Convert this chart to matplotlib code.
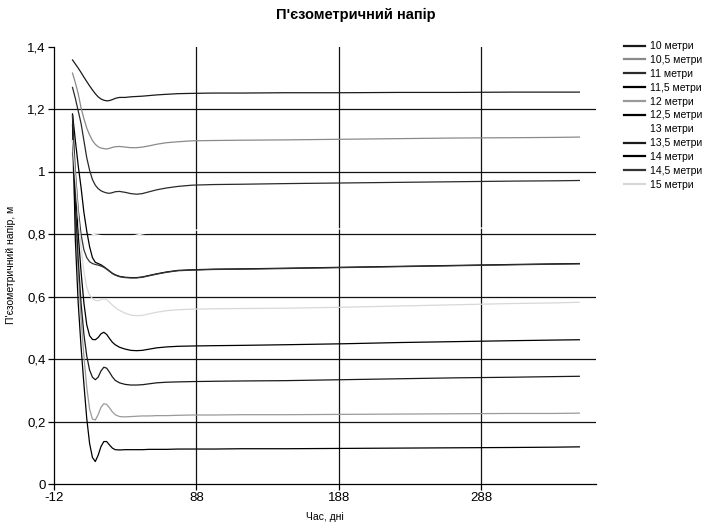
import numpy as np
import matplotlib.pyplot as plt

days = [1, 3, 5, 7, 9, 11, 13, 15, 17, 19, 21, 23, 25, 27, 29, 31,
        34, 38, 42, 46, 50, 55, 60, 67, 75, 85, 100, 120, 150, 190,
        230, 270, 310, 340, 357]

h_10 = [1.358, 1.345, 1.332, 1.318, 1.303, 1.289, 1.275, 1.262, 1.250, 1.240,
        1.233, 1.229, 1.227, 1.228, 1.231, 1.235, 1.238, 1.238, 1.240, 1.241,
        1.242, 1.244, 1.246, 1.248, 1.250, 1.251, 1.252, 1.252, 1.253, 1.253,
        1.254, 1.254, 1.255, 1.255, 1.255]
h_10_5 = [1.316, 1.285, 1.250, 1.205, 1.170, 1.140, 1.118, 1.100, 1.088, 1.080,
          1.076, 1.074, 1.073, 1.075, 1.078, 1.080, 1.081, 1.079, 1.077, 1.077,
          1.079, 1.083, 1.088, 1.093, 1.096, 1.099, 1.100, 1.101, 1.102, 1.104,
          1.106, 1.108, 1.109, 1.110, 1.111]
h_11 = [1.270, 1.235, 1.195, 1.155, 1.100, 1.045, 1.005, 0.975, 0.957, 0.946,
        0.939, 0.935, 0.932, 0.931, 0.933, 0.936, 0.937, 0.934, 0.930, 0.928,
        0.930, 0.936, 0.942, 0.948, 0.953, 0.957, 0.959, 0.960, 0.962, 0.964,
        0.966, 0.968, 0.970, 0.971, 0.972]
h_11_5 = [1.185, 1.100, 1.020, 0.950, 0.870, 0.810, 0.760, 0.725, 0.710, 0.706,
          0.702, 0.696, 0.689, 0.682, 0.675, 0.670, 0.665, 0.662, 0.661, 0.661,
          0.663, 0.668, 0.673, 0.679, 0.684, 0.686, 0.688, 0.689, 0.691, 0.694,
          0.697, 0.700, 0.703, 0.705, 0.706]
h_12 = [1.060, 0.860, 0.680, 0.530, 0.410, 0.310, 0.240, 0.208, 0.205, 0.222,
        0.246, 0.257, 0.255, 0.244, 0.231, 0.222, 0.216, 0.215, 0.216, 0.217,
        0.218, 0.218, 0.219, 0.219, 0.220, 0.221, 0.221, 0.222, 0.222, 0.223,
        0.224, 0.225, 0.226, 0.226, 0.227]
h_12_5 = [1.100, 0.950, 0.800, 0.680, 0.580, 0.510, 0.475, 0.463, 0.462, 0.469,
          0.481, 0.486, 0.479, 0.466, 0.454, 0.446, 0.438, 0.432, 0.428, 0.427,
          0.428, 0.432, 0.436, 0.439, 0.441, 0.442, 0.443, 0.444, 0.446, 0.449,
          0.453, 0.456, 0.459, 0.461, 0.462]
h_13 = [1.130, 1.000, 0.900, 0.850, 0.820, 0.810, 0.805, 0.800, 0.798, 0.797,
        0.795, 0.792, 0.789, 0.787, 0.786, 0.786, 0.787, 0.789, 0.792, 0.797,
        0.801, 0.805, 0.808, 0.810, 0.812, 0.813, 0.814, 0.815, 0.816, 0.817,
        0.818, 0.819, 0.820, 0.820, 0.821]
h_13_5 = [1.150, 0.900, 0.720, 0.580, 0.480, 0.410, 0.365, 0.342, 0.334, 0.342,
          0.362, 0.374, 0.371, 0.358, 0.343, 0.332, 0.324, 0.319, 0.317, 0.317,
          0.318, 0.321, 0.324, 0.326, 0.327, 0.328, 0.329, 0.330, 0.331, 0.334,
          0.337, 0.340, 0.342, 0.344, 0.345]
h_14 = [1.180, 0.780, 0.580, 0.440, 0.320, 0.210, 0.130, 0.085, 0.072, 0.092,
        0.120, 0.136, 0.136, 0.125, 0.115, 0.110, 0.109, 0.110, 0.110, 0.110,
        0.110, 0.111, 0.111, 0.111, 0.112, 0.112, 0.112, 0.113, 0.113, 0.114,
        0.115, 0.116, 0.117, 0.118, 0.119]
h_14_5 = [1.180, 1.000, 0.880, 0.800, 0.750, 0.725, 0.712, 0.706, 0.703, 0.701,
          0.698, 0.694, 0.688, 0.681, 0.674, 0.669, 0.664, 0.661, 0.660, 0.660,
          0.662, 0.667, 0.672, 0.678, 0.683, 0.685, 0.687, 0.688, 0.690, 0.693,
          0.696, 0.699, 0.702, 0.704, 0.705]
h_15 = [1.100, 0.980, 0.860, 0.760, 0.680, 0.630, 0.605, 0.594, 0.588, 0.587,
        0.590, 0.593, 0.590, 0.582, 0.573, 0.565, 0.556, 0.547, 0.541, 0.539,
        0.540, 0.545, 0.550, 0.555, 0.558, 0.560, 0.561, 0.562, 0.563, 0.566,
        0.570, 0.574, 0.578, 0.580, 0.582]

labels = ['10 метри', '10,5 метри', '11 метри', '11,5 метри', '12 метри',
          '12,5 метри', '13 метри', '13,5 метри', '14 метри', '14,5 метри',
          '15 метри']
series = [h_10, h_10_5, h_11, h_11_5, h_12, h_12_5, h_13, h_13_5, h_14,
          h_14_5, h_15]
colors = ['#1a1a1a', '#8a8a8a', '#2a2a2a', '#000000', '#9a9a9a', '#000000',
          '#ffffff', '#1a1a1a', '#000000', '#333333', '#d8d8d8']

xticks = [-12, 88, 188, 288]
yticks = [0, 0.2, 0.4, 0.6, 0.8, 1.0, 1.2, 1.4]
ytick_labels = ['0', '0,2', '0,4', '0,6', '0,8', '1', '1,2', '1,4']

plt.rcParams['font.family'] = ['Liberation Sans', 'DejaVu Sans']
plt.rcParams['axes.unicode_minus'] = False

fig = plt.figure(figsize=(7.04, 5.28), dpi=100)
ax = fig.add_axes([0.0767, 0.0833, 0.7705, 0.828])

# Gitterlinien von Hand, ohne Linie am oberen Rand
for y in yticks[1:-1]:
    ax.axhline(y, color='#111111', linewidth=0.9, zorder=1)
for x in xticks[1:]:
    ax.axvline(x, color='#111111', linewidth=0.9, zorder=1)

for vals, lab, col in zip(series, labels, colors):
    z = 1.5 if col == '#ffffff' else 2
    ax.plot(days, vals, color=col, linewidth=0.9, label=lab, zorder=z)

ax.set_xlim(-12, 369)
ax.set_ylim(0, 1.4)
ax.set_xticks(xticks)
ax.set_yticks(yticks)
ax.set_yticklabels(ytick_labels)
ax.tick_params(axis='both', direction='out', length=4, width=0.9,
               labelsize=9.5, pad=2)

for side in ['top', 'right']:
    ax.spines[side].set_visible(False)
for side in ['left', 'bottom']:
    ax.spines[side].set_linewidth(0.9)

# Achsenbeschriftungen
fig.text(0.4616, 0.02, 'Час, дні', ha='center', va='center', fontsize=7.5)
fig.text(0.016, 0.498, "П'єзометричний напір, м", ha='center', va='center',
         rotation=90, fontsize=7.5)

fig.text(0.505, 0.972, "П'єзометричний напір", ha='center', va='center',
         fontsize=10.5, fontweight='bold')

leg = fig.legend(loc='upper left', bbox_to_anchor=(0.887, 0.922),
                 frameon=False, fontsize=7.5, labelspacing=0.37,
                 handlelength=2.0, handletextpad=0.5, borderpad=0,
                 borderaxespad=0)
for line in leg.get_lines():
    line.set_linewidth(1.6)

plt.savefig('out.png', dpi=100)
